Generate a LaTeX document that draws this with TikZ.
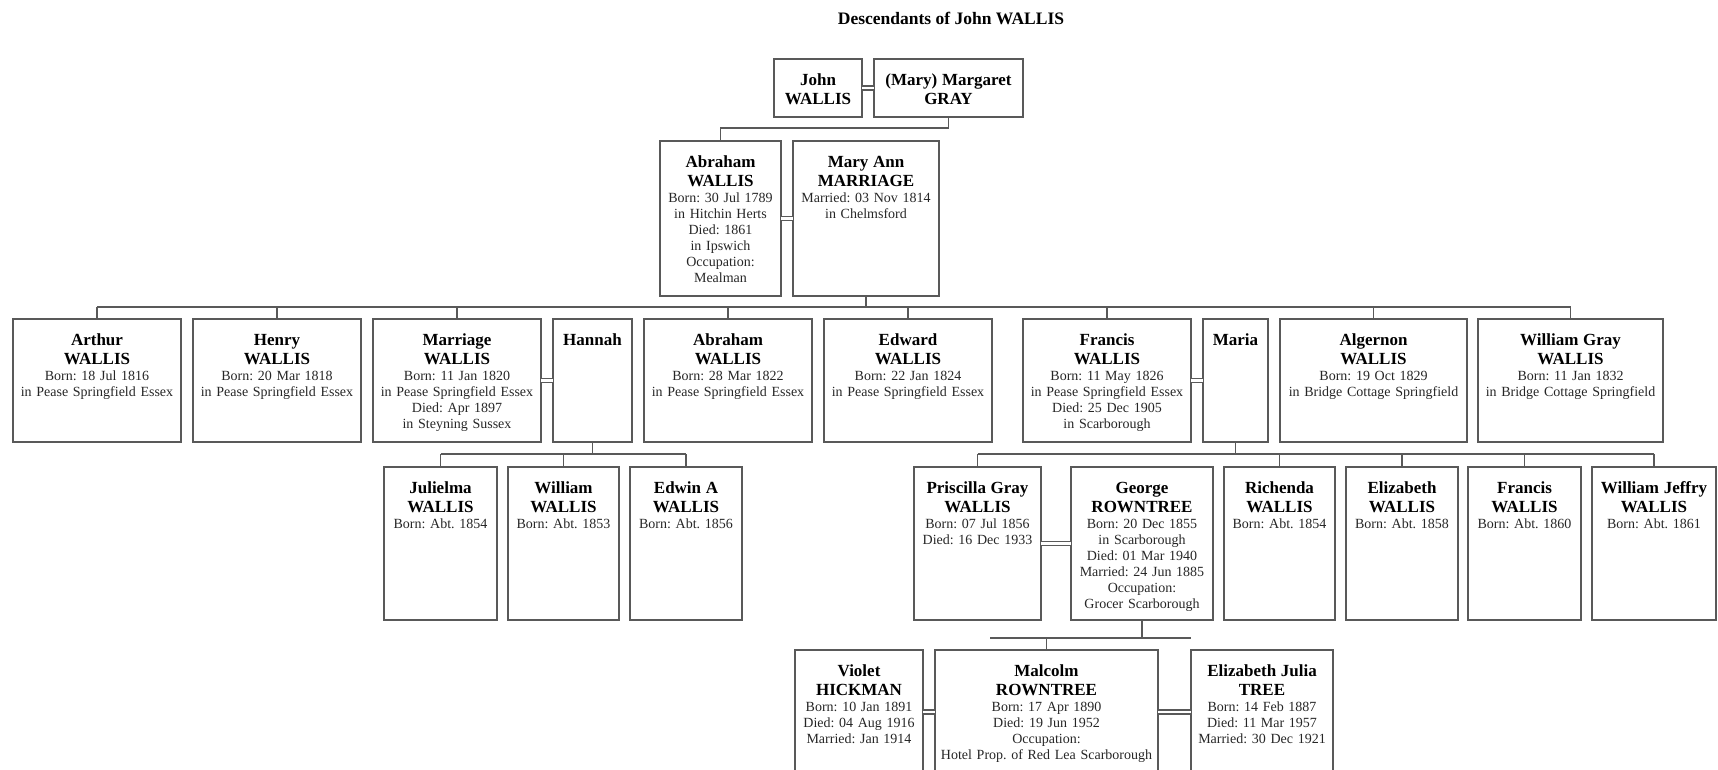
\documentclass[tikz,border=0pt]{standalone}
\usepackage{fontspec}
\setmainfont{Liberation Serif}
\usepackage{tikz}
\frenchspacing

% name lines of a box
\newcommand{\nm}[1]{{\fontsize{17}{19}\selectfont\bfseries\color{black}#1\par}}

\begin{document}
\begin{tikzpicture}
      [x=1pt, y=-1pt,
      every node/.style={inner sep=0pt, outer sep=0pt},
      person/.style={draw=black!65, line width=1.6pt, anchor=north west, align=center,
        text width=#1, text height=26pt, text=black!85, font=\fontsize{14}{16}\selectfont},
      rowa/.style={text depth=32pt},
      rowb/.style={text depth=129pt},
      rowc/.style={text depth=97pt},
      rowd/.style={text depth=127pt},
      rowe/.style={text depth=98pt},
      link/.style={draw=black!65, line width=1.4pt},
      couple/.style={draw=black!65, line width=1.4pt, double, double distance=2.4pt},
      ]
      \useasboundingbox (0,0) rectangle (1718,769);

      \node[anchor=base] (title) at (951,24) {\fontsize{17.5}{20}\selectfont\bfseries Descendants of John WALLIS};

      % parents
      \node[person=88pt, rowa] (john) at (774,59) {\nm{John\\WALLIS}};
      \node[person=149pt, rowa] (margaret) at (874,59) {\nm{(Mary) Margaret\\GRAY}};

      \node[person=121pt, rowb] (abraham) at (660,141) {\nm{Abraham\\WALLIS}Born: 30 Jul 1789\\in Hitchin Herts\\Died: 1861\\in Ipswich\\Occupation:\\Mealman};
      \node[person=146pt, rowb] (maryann) at (793,141) {\nm{Mary Ann\\MARRIAGE}Married: 03 Nov 1814\\in Chelmsford};

      % children of Abraham and Mary Ann
      \node[person=168pt, rowc] (arthur) at (13,319) {\nm{Arthur\\WALLIS}Born: 18 Jul 1816\\in Pease Springfield Essex};
      \node[person=168pt, rowc] (henry) at (193,319) {\nm{Henry\\WALLIS}Born: 20 Mar 1818\\in Pease Springfield Essex};
      \node[person=168pt, rowc] (marriage) at (373,319) {\nm{Marriage\\WALLIS}Born: 11 Jan 1820\\in Pease Springfield Essex\\Died: Apr 1897\\in Steyning Sussex};
      \node[person=79pt, rowc] (hannah) at (553,319) {\nm{Hannah}};
      \node[person=168pt, rowc] (abraham2) at (644,319) {\nm{Abraham\\WALLIS}Born: 28 Mar 1822\\in Pease Springfield Essex};
      \node[person=168pt, rowc] (edward) at (824,319) {\nm{Edward\\WALLIS}Born: 22 Jan 1824\\in Pease Springfield Essex};
      \node[person=168pt, rowc] (francis) at (1023,319) {\nm{Francis\\WALLIS}Born: 11 May 1826\\in Pease Springfield Essex\\Died: 25 Dec 1905\\in Scarborough};
      \node[person=65pt, rowc] (maria) at (1203,319) {\nm{Maria}};
      \node[person=187pt, rowc] (algernon) at (1280,319) {\nm{Algernon\\WALLIS}Born: 19 Oct 1829\\in Bridge Cottage Springfield};
      \node[person=185pt, rowc] (williamg) at (1478,319) {\nm{William Gray\\WALLIS}Born: 11 Jan 1832\\in Bridge Cottage Springfield};

      % grandchildren
      \node[person=113pt, rowd] (julielma) at (384,467) {\nm{Julielma\\WALLIS}Born: Abt. 1854};
      \node[person=111pt, rowd] (william) at (508,467) {\nm{William\\WALLIS}Born: Abt. 1853};
      \node[person=112pt, rowd] (edwin) at (630,467) {\nm{Edwin A\\WALLIS}Born: Abt. 1856};

      \node[person=127pt, rowd] (priscilla) at (914,467) {\nm{Priscilla Gray\\WALLIS}Born: 07 Jul 1856\\Died: 16 Dec 1933};
      \node[person=142pt, rowd] (george) at (1071,467) {\nm{George\\ROWNTREE}Born: 20 Dec 1855\\in Scarborough\\Died: 01 Mar 1940\\Married: 24 Jun 1885\\Occupation:\\Grocer Scarborough};
      \node[person=111pt, rowd] (richenda) at (1224,467) {\nm{Richenda\\WALLIS}Born: Abt. 1854};
      \node[person=112pt, rowd] (elizabeth) at (1346,467) {\nm{Elizabeth\\WALLIS}Born: Abt. 1858};
      \node[person=113pt, rowd] (francis2) at (1468,467) {\nm{Francis\\WALLIS}Born: Abt. 1860};
      \node[person=124pt, rowd] (williamj) at (1592,467) {\nm{William Jeffry\\WALLIS}Born: Abt. 1861};

      \node[person=128pt, rowe] (violet) at (795,650) {\nm{Violet\\HICKMAN}Born: 10 Jan 1891\\Died: 04 Aug 1916\\Married: Jan 1914};
      \node[person=223pt, rowe] (malcolm) at (935,650) {\nm{Malcolm\\ROWNTREE}Born: 17 Apr 1890\\Died: 19 Jun 1952\\Occupation:\\Hotel Prop. of Red Lea Scarborough};
      \node[person=142pt, rowe] (tree) at (1191,650) {\nm{Elizabeth Julia\\TREE}Born: 14 Feb 1887\\Died: 11 Mar 1957\\Married: 30 Dec 1921};

      % marriages
      \draw[couple] (john) -- (margaret);
      \draw[couple] (abraham) -- (maryann);
      \draw[couple] (marriage) -- (hannah);
      \draw[couple] (francis) -- (maria);
      \draw[couple] (priscilla) -- (george);
      \draw[couple] (violet) -- (malcolm);
      \draw[couple] (malcolm) -- (tree);

      % descent
      \coordinate (g1) at (0,128);
      \draw[link] (margaret.south) -- (margaret.south |- g1) -| (abraham.north);

      \coordinate (g2) at (0,307);
      \draw[link] (maryann.south) -- (maryann.south |- g2);
      \draw[link] (arthur.north |- g2) -- (williamg.north |- g2);
      \foreach \k in {arthur,henry,marriage,abraham2,edward,francis,algernon,williamg}
        \draw[link] (\k.north) -- (\k.north |- g2);

      \coordinate (g3) at (0,454);
      \draw[link] (hannah.south) -- (hannah.south |- g3);
      \draw[link] (julielma.north |- g3) -- (edwin.north |- g3);
      \foreach \k in {julielma,william,edwin}
        \draw[link] (\k.north) -- (\k.north |- g3);

      \draw[link] (maria.south) -- (maria.south |- g3);
      \draw[link] (priscilla.north |- g3) -- (williamj.north |- g3);
      \foreach \k in {priscilla,richenda,elizabeth,francis2,williamj}
        \draw[link] (\k.north) -- (\k.north |- g3);

      \coordinate (g4a) at (990,638);
      \coordinate (g4b) at (1191,638);
      \draw[link] (george.south) -- (george.south |- g4a);
      \draw[link] (g4a) -- (g4b);
      \draw[link] (malcolm.north) -- (malcolm.north |- g4a);
\end{tikzpicture}
\end{document}
